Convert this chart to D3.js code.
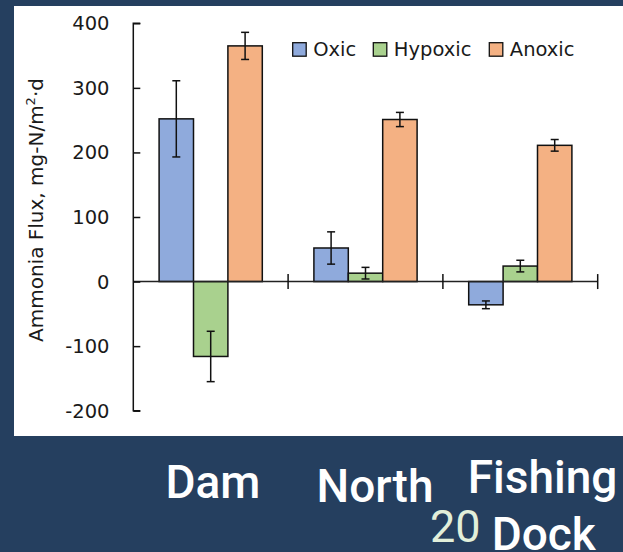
<!DOCTYPE html>
<html>
<head>
<meta charset="utf-8">
<script src="https://cdn.jsdelivr.net/npm/d3@7"></script>
<style>
  html, body { margin: 0; padding: 0; background: #253F5F; }
  svg { display: block; }
</style>
</head>
<body>
<svg id="chart" width="623" height="552"></svg>
<script>
// Sites and redox conditions
const categories = ["Dam", "North", "Fishing Dock"];
const series = ["Oxic", "Hypoxic", "Anoxic"];
const colors = ["#8FAADC", "#A9D18E", "#F4B183"];

// Ammonia flux (mg-N/m2·d), one array per condition, ordered by site
const oxicValues = [252, 52, -36];
const hypoxicValues = [-116, 13, 24];
const anoxicValues = [365, 251, 211];

// Error bar half-widths
const oxicErr = [59, 25, 6];
const hypoxicErr = [39, 9, 9];
const anoxicErr = [21, 11, 9];

const yTicks = [-200, -100, 0, 100, 200, 300, 400];

const values = [oxicValues, hypoxicValues, anoxicValues];
const errors = [oxicErr, hypoxicErr, anoxicErr];

const svg = d3.select("#chart");
const chartFont = "'DejaVu Sans', sans-serif";
const slideFont = "Roboto, 'Open Sans', sans-serif";

// white chart panel
svg.append("rect")
  .attr("x", 14).attr("y", 6)
  .attr("width", 609).attr("height", 430)
  .attr("fill", "#ffffff");

const plotLeft = 133.3, plotRight = 597.7;
const y = d3.scaleLinear().domain([-200, 400]).range([410.7, 23.3]);
const x0 = d3.scaleBand().domain(categories).range([plotLeft, plotRight]).padding(0);
const barW = x0.bandwidth() / 4.5;          // 150% gap between groups
const x1 = d3.scaleBand().domain(series)
  .range([0.75 * barW, 3.75 * barW]).padding(0);

// bars
const rows = [];
categories.forEach((c, ci) => {
  series.forEach((s, si) => {
    rows.push({ cat: c, ser: s, si, v: values[si][ci], e: errors[si][ci] });
  });
});

const g = svg.append("g");
g.selectAll("rect.bar").data(rows).join("rect")
  .attr("class", "bar")
  .attr("x", d => x0(d.cat) + x1(d.ser))
  .attr("y", d => y(Math.max(0, d.v)))
  .attr("width", x1.bandwidth())
  .attr("height", d => Math.abs(y(d.v) - y(0)))
  .attr("fill", d => colors[d.si])
  .attr("stroke", "#111")
  .attr("stroke-width", 1.5);

// x axis line at zero with category separator ticks
g.append("line")
  .attr("x1", plotLeft).attr("x2", plotRight)
  .attr("y1", y(0)).attr("y2", y(0))
  .attr("stroke", "#222").attr("stroke-width", 1.5);
const bounds = categories.map(c => x0(c) + x0.bandwidth());
g.selectAll("line.xtick").data(bounds).join("line")
  .attr("class", "xtick")
  .attr("x1", d => d).attr("x2", d => d)
  .attr("y1", y(0) - 7.5).attr("y2", y(0) + 7.5)
  .attr("stroke", "#111").attr("stroke-width", 1.5);

// error bars
const cap = 4;
const eb = g.selectAll("g.err").data(rows).join("g").attr("class", "err")
  .attr("stroke", "#111").attr("stroke-width", 1.5);
eb.append("line")
  .attr("x1", d => x0(d.cat) + x1(d.ser) + x1.bandwidth() / 2)
  .attr("x2", d => x0(d.cat) + x1(d.ser) + x1.bandwidth() / 2)
  .attr("y1", d => y(d.v + d.e)).attr("y2", d => y(d.v - d.e));
eb.append("line")
  .attr("x1", d => x0(d.cat) + x1(d.ser) + x1.bandwidth() / 2 - cap)
  .attr("x2", d => x0(d.cat) + x1(d.ser) + x1.bandwidth() / 2 + cap)
  .attr("y1", d => y(d.v + d.e)).attr("y2", d => y(d.v + d.e));
eb.append("line")
  .attr("x1", d => x0(d.cat) + x1(d.ser) + x1.bandwidth() / 2 - cap)
  .attr("x2", d => x0(d.cat) + x1(d.ser) + x1.bandwidth() / 2 + cap)
  .attr("y1", d => y(d.v - d.e)).attr("y2", d => y(d.v - d.e));

// y axis: ticks point inward, labels on the left
const yAxis = d3.axisRight(y).tickValues(yTicks).tickSize(7).tickFormat("");
const ya = svg.append("g").attr("transform", `translate(${plotLeft},0)`).call(yAxis);
ya.select(".domain").attr("stroke", "#111").attr("stroke-width", 1.5)
  .attr("d", `M7,${y(400)}H0V${y(-200)}H7`);
ya.selectAll(".tick line").attr("stroke", "#111").attr("stroke-width", 1.5);

svg.append("g").selectAll("text").data(yTicks).join("text")
  .attr("x", 109.5)
  .attr("y", d => y(d))
  .attr("dy", "0.36em")
  .attr("text-anchor", "end")
  .attr("font-family", chartFont)
  .attr("font-size", 19.5)
  .attr("fill", "#1a1a1a")
  .text(d => d);

// y axis title
const title = svg.append("text")
  .attr("transform", "translate(43,210) rotate(-90)")
  .attr("text-anchor", "middle")
  .attr("font-family", chartFont)
  .attr("font-size", 20)
  .attr("fill", "#1a1a1a");
title.append("tspan").text("Ammonia Flux, mg-N/m");
title.append("tspan").attr("font-size", 13).attr("dy", -8).text("2");
title.append("tspan").attr("dy", 8).text("·d");

// legend
const legendX = [292.7, 373.3, 489.3];
const lg = svg.append("g").selectAll("g").data(series).join("g")
  .attr("transform", (d, i) => `translate(${legendX[i]},42.7)`);
lg.append("rect")
  .attr("width", 13.5).attr("height", 13.5)
  .attr("fill", (d, i) => colors[i])
  .attr("stroke", "#111").attr("stroke-width", 1.3);
lg.append("text")
  .attr("x", 20.5).attr("y", 13.4)
  .attr("font-family", chartFont)
  .attr("font-size", 19.5)
  .attr("fill", "#1a1a1a")
  .text(d => d);

// site names beneath the panel
const siteLabels = [
  { lines: ["Dam"], x: 213, y: 498.3 },
  { lines: ["North"], x: 375, y: 501.7 },
  { lines: ["Fishing", "Dock"], x: 542.5, y: 493.3 }
];
siteLabels.forEach(s => {
  const t = svg.append("text")
    .attr("x", s.x).attr("y", s.y)
    .attr("text-anchor", "middle")
    .attr("font-family", slideFont)
    .attr("font-weight", 500)
    .attr("font-size", 46)
    .attr("fill", "#ffffff");
  s.lines.forEach((l, i) => {
    t.append("tspan").attr("x", i === 0 ? s.x : 491.7)
      .attr("text-anchor", i === 0 ? "middle" : "start")
      .attr("dy", i === 0 ? 0 : 57).text(l);
  });
});

// slide number
svg.append("text")
  .attr("x", 430).attr("y", 541.7)
  .attr("font-family", slideFont)
  .attr("font-size", 45)
  .attr("fill", "#E2EFDA")
  .text("20");
</script>
</body>
</html>
